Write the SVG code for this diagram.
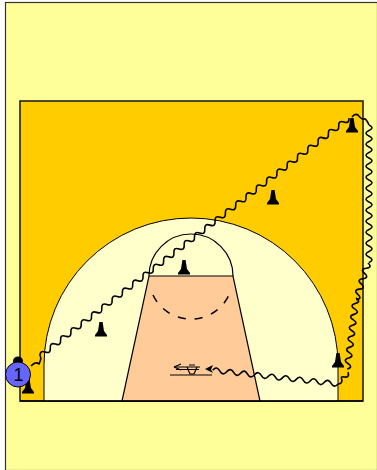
<svg xmlns="http://www.w3.org/2000/svg" width="377" height="470" viewBox="0 0 377 470">
<style>
.ln{stroke:#000;stroke-width:1.2;fill:none}
.w{stroke:#000;stroke-width:1.6;fill:none}
.cone{fill:#000}
text{font-family:"Liberation Sans",Arial,sans-serif}
</style>
<defs>
<path id="cone" d="M0 -13 L1.6 -13 L3 -4 L6 0 L6 1.5 L-6 1.5 L-6 0 L-3 -4 L-1.6 -13Z" class="cone"/>
</defs>
<rect width="377" height="470" fill="#fff"/>
<rect x="5.5" y="2.5" width="372" height="468" fill="#FFFF99" stroke="#333" stroke-width="1.2"/>
<g id="court">
<rect x="20" y="101" width="343" height="300" fill="#FFCC00" stroke="#222" stroke-width="1.6"/>
<path d="M44 401 V365 A147 147 0 0 1 338 365 V401 Z" fill="#FFFFCC" stroke="#000" stroke-width="1"/>
<path d="M149 276 H233 L260 401 H122 Z" fill="#FFCC99" stroke="#000" stroke-width="1.2"/>
<path d="M149 276 A42 42 0 0 1 233 276" class="ln"/>
<path d="M153 295 A42 42 0 0 0 229 295" stroke="#000" stroke-width="1.5" fill="none" stroke-dasharray="8 9"/>
<line x1="20" y1="401" x2="363" y2="401" stroke="#000" stroke-width="1.6"/>
</g>
<g id="cones">
<use id="cone1" href="#cone" x="28" y="392"/>
<use id="cone2" href="#cone" x="101" y="335"/>
<use id="cone3" href="#cone" x="184" y="273"/>
<use id="cone4" href="#cone" x="273" y="203"/>
<use id="cone5" href="#cone" x="352" y="131"/>
<use id="cone6" href="#cone" x="338" y="366"/>
</g>
<g id="connectors">
<path class="w" d="M31 366 Q36 361 39 364 Q42 358 40 356"/>
<path class="w" transform="translate(40 356) rotate(-37.6)" d="M0 0 q3.25 -5 6.5 0 t6.5 0 t6.5 0 t6.5 0 t6.5 0 t6.5 0 t6.5 0 t6.5 0 t6.5 0 t6.5 0 t6.5 0 t6.5 0 t6.5 0 t6.5 0 t6.5 0 t6.5 0 t6.5 0 t6.5 0 t6.5 0 t6.5 0 t6.5 0 t6.5 0 t6.5 0 t6.5 0 t6.5 0 t6.5 0 t6.5 0 t6.5 0 t6.5 0 t6.5 0 t6.5 0 t6.5 0 t6.5 0 t6.5 0 t6.5 0 t6.5 0 t6.5 0 t6.5 0 t6.5 0 t6.5 0 t6.5 0 t6.5 0 t6.5 0 t6.5 0 t6.5 0 t6.5 0 t6.5 0 t6.5 0 t6.5 0 t6.5 0 t6.5 0 t6.5 0 t6.5 0 t6.5 0 t6.5 0 t6.5 0 t6.5 0 t6.5 0 t6.5 0 t6.5 0"/>
<path class="w" d="M352 117 Q355 113 358 115 Q362 120 364 119 T369 125"/>
<path class="w" transform="translate(369 125) rotate(90)" d="M0 0 q2.75 -6 5.5 0 t5.5 0 t5.5 0 t5.5 0 t5.5 0 t5.5 0 t5.5 0 t5.5 0 t5.5 0 t5.5 0 t5.5 0 t5.5 0 t5.5 0 t5.5 0 t5.5 0 t5.5 0 t5.5 0 t5.5 0 t5.5 0 t5.5 0 t5.5 0 t5.5 0 t5.5 0 t5.5 0 t5.5 0"/>
<path class="w" transform="translate(368 263) rotate(108)" d="M0 0 q2.75 -6 5.5 0 t5.5 0 t5.5 0 t5.5 0 t5.5 0 t5.5 0 t5.5 0"/>
<path class="w" transform="translate(356 298) rotate(97)" d="M0 0 q2.75 -6 5.5 0 t5.5 0 t5.5 0 t5.5 0 t5.5 0 t5.5 0 t5.5 0 t5.5 0 t5.5 0 t5.5 0 t5.5 0 t5.5 0 t5.5 0"/>
<path class="w" d="M348 372 Q350 378 344 377 Q340 376 342 380 Q342 384 338 384"/>
<path class="w" transform="translate(338 384) rotate(-173.7)" d="M0 0 q3.5 -5 7 0 t7 0 t7 0 t7 0 t7 0 t7 0 t7 0 t7 0 t7 0 t7 0 t7 0 t7 0 t7 0 t7 0 t7 0 t7 0 t7 0 t7 0"/>
<polygon points="205,369 213,365 211,369.5 213,373" fill="#000"/>
</g>
<g id="screen">
<path class="ln" d="M174 367 H200 M176 369.5 H199 M170 375 H212"/>
<path d="M174 367 L181 364 M174 367 L181 370" class="ln"/>
<path class="ln" d="M187 367 L190 374 H194 L197 367 M189 365 H195"/>
</g>
<g id="player1">
<ellipse cx="18" cy="361" rx="5" ry="4.5" fill="#000"/>
<circle cx="18" cy="374.5" r="12.5" fill="#6666FF" stroke="#000" stroke-width="1"/>
<text x="18.5" y="381" font-size="18" text-anchor="middle" fill="#000">1</text>
</g>
</svg>
